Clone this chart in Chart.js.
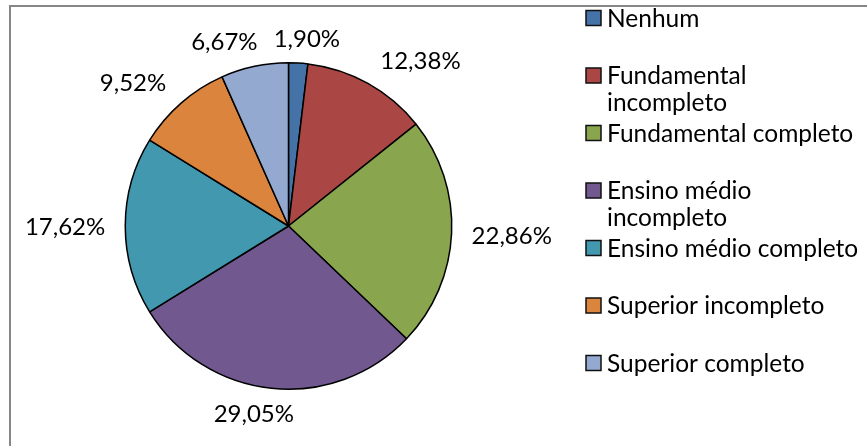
<!DOCTYPE html>
<html>
<head>
<meta charset="utf-8">
<script src="https://cdn.jsdelivr.net/npm/chart.js@4"></script>
<style>
  html, body { margin: 0; padding: 0; background: #fff; }
  #wrap { position: relative; width: 867px; height: 446px; }
</style>
</head>
<body>
<div id="wrap"><canvas id="c"></canvas></div>
<script>
const categories = [
  "Nenhum",
  "Fundamental incompleto",
  "Fundamental completo",
  "Ensino médio incompleto",
  "Ensino médio completo",
  "Superior incompleto",
  "Superior completo"
];
const legendLines = [
  ["Nenhum"],
  ["Fundamental", "incompleto"],
  ["Fundamental completo"],
  ["Ensino médio", "incompleto"],
  ["Ensino médio completo"],
  ["Superior incompleto"],
  ["Superior completo"]
];
const values = [1.90, 12.38, 22.86, 29.05, 17.62, 9.52, 6.67];
const valueLabels = ["1,90%", "12,38%", "22,86%", "29,05%", "17,62%", "9,52%", "6,67%"];
const colors = ["#4572A7", "#AA4643", "#89A54E", "#71588F", "#4198AF", "#DB843D", "#93A9CF"];

const FONT = "Lato, 'Open Sans', sans-serif";

const framePlugin = {
  id: 'frame',
  beforeDraw(chart) {
    const ctx = chart.ctx;
    ctx.save();
    ctx.fillStyle = '#fff';
    ctx.fillRect(0, 0, chart.width, chart.height);
    ctx.strokeStyle = '#878787';
    ctx.lineWidth = 2;
    ctx.strokeRect(10, 6, 900, 500);
    ctx.restore();
  }
};

const labelPlugin = {
  id: 'outLabels',
  afterDatasetsDraw(chart) {
    const ctx = chart.ctx;
    const meta = chart.getDatasetMeta(0);
    ctx.save();
    ctx.font = "24px " + FONT;
    ctx.fillStyle = '#000';
    ctx.textAlign = 'center';
    ctx.textBaseline = 'middle';
    meta.data.forEach((arc, i) => {
      const p = arc.getProps(['x', 'y', 'startAngle', 'endAngle', 'outerRadius'], true);
      const mid = (p.startAngle + p.endAngle) / 2;
      const txt = valueLabels[i];
      const hw = ctx.measureText(txt).width / 2 + 5;
      const hh = 10;
      const c = Math.cos(mid), s = Math.sin(mid);
      const r = p.outerRadius + 15;
      const k = 3.4;
      const sx = Math.sign(c) * Math.min(1, k * Math.abs(c)) * hw;
      const sy = Math.sign(s) * Math.min(1, k * Math.abs(s)) * hh;
      ctx.fillText(txt, p.x + c * r + sx, p.y + s * r + sy + 1);
    });
    ctx.restore();
  }
};

const legendPlugin = {
  id: 'customLegend',
  afterDraw(chart) {
    const ctx = chart.ctx;
    const ds = chart.data.datasets[0];
    ctx.save();
    ctx.font = "24.5px " + FONT;
    ctx.textBaseline = 'middle';
    ctx.textAlign = 'left';
    const x0 = 586, top = 18, step = 57.5, lh = 27, box = 15;
    legendLines.forEach((lines, i) => {
      const y = top + i * step;
      ctx.fillStyle = ds.backgroundColor[i];
      ctx.fillRect(x0, y - box / 2, box, box);
      ctx.strokeStyle = '#111';
      ctx.lineWidth = 1.5;
      ctx.strokeRect(x0, y - box / 2, box, box);
      ctx.fillStyle = '#000';
      lines.forEach((ln, j) => ctx.fillText(ln, x0 + 21, y + j * lh + 1));
    });
    ctx.restore();
  }
};

new Chart(document.getElementById('c'), {
  type: 'pie',
  data: {
    labels: categories,
    datasets: [{
      data: values,
      backgroundColor: colors,
      borderColor: '#000',
      borderWidth: 1.5,
      borderAlign: 'center'
    }]
  },
  options: {
    responsive: true,
    maintainAspectRatio: false,
    animation: false,
    layout: { padding: { left: 124, right: 414, top: 62, bottom: 56 } },
    plugins: {
      legend: { display: false },
      tooltip: { enabled: false }
    }
  },
  plugins: [framePlugin, labelPlugin, legendPlugin]
});
</script>
</body>
</html>
